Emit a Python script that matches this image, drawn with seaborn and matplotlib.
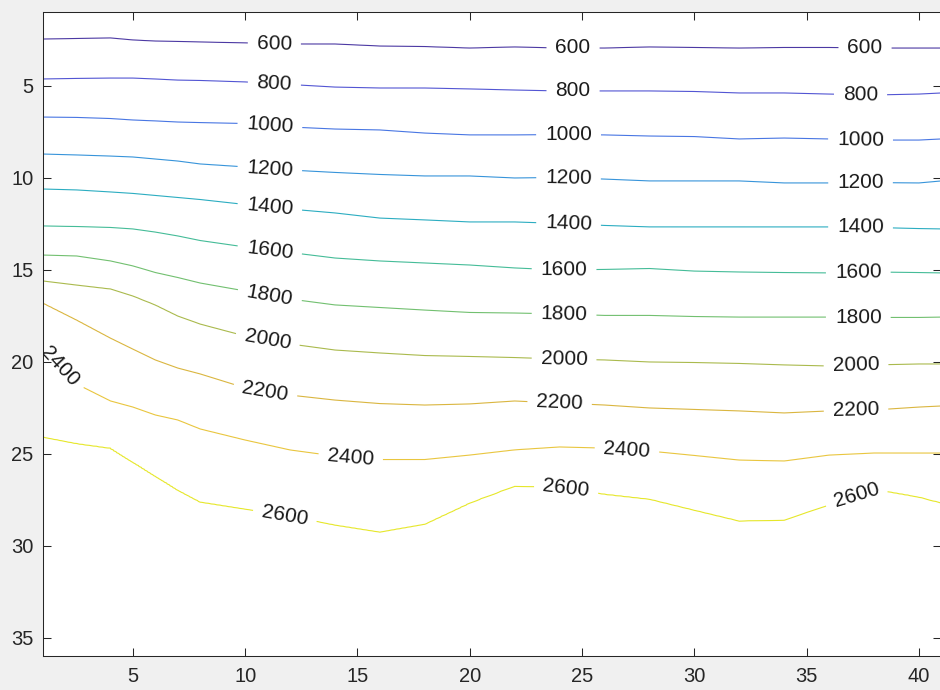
import numpy as np
import matplotlib
matplotlib.use("Agg")
import matplotlib.pyplot as plt
from matplotlib.colors import LinearSegmentedColormap, Normalize
import seaborn as sns

# ---------------- data ----------------
levels = [600, 800, 1000, 1200, 1400, 1600, 1800, 2000, 2200, 2400, 2600]
x_cols = [1, 2.5, 4, 5, 6, 7, 8, 10, 12, 14, 16, 18, 20, 22, 24, 26, 28, 30, 32, 34, 36, 38, 40, 41]

# depth (y) of each contour level at the x_cols positions
depth_600 = [2.47, 2.44, 2.41, 2.52, 2.58, 2.60, 2.63, 2.68, 2.74, 2.74, 2.85, 2.88,
             2.96, 2.90, 2.96, 2.96, 2.90, 2.93, 2.96, 2.93, 2.93, 2.96, 2.96, 2.96]
depth_800 = [4.64, 4.61, 4.59, 4.59, 4.64, 4.70, 4.72, 4.80, 4.94, 5.08, 5.13, 5.13,
             5.18, 5.24, 5.29, 5.29, 5.29, 5.32, 5.40, 5.40, 5.46, 5.51, 5.46, 5.40]
depth_1000 = [6.71, 6.73, 6.79, 6.87, 6.92, 6.98, 7.01, 7.06, 7.25, 7.36, 7.41, 7.58,
              7.68, 7.68, 7.66, 7.68, 7.74, 7.77, 7.90, 7.85, 7.90, 7.96, 7.96, 7.90]
depth_1200 = [8.72, 8.77, 8.83, 8.88, 8.99, 9.10, 9.26, 9.42, 9.59, 9.72, 9.83, 9.91,
              9.91, 10.02, 9.99, 10.08, 10.18, 10.18, 10.18, 10.29, 10.29, 10.27, 10.29, 10.18]
depth_1400 = [10.62, 10.67, 10.78, 10.86, 10.97, 11.08, 11.19, 11.46, 11.71, 11.92, 12.20, 12.30,
              12.41, 12.41, 12.49, 12.60, 12.68, 12.68, 12.68, 12.68, 12.68, 12.71, 12.77, 12.79]
depth_1600 = [12.63, 12.66, 12.71, 12.79, 12.96, 13.17, 13.42, 13.77, 14.07, 14.37, 14.53, 14.64,
              14.75, 14.91, 15.02, 14.99, 14.94, 15.08, 15.13, 15.16, 15.18, 15.13, 15.16, 15.18]
depth_1800 = [14.21, 14.26, 14.53, 14.80, 15.16, 15.43, 15.73, 16.16, 16.60, 16.92, 17.06, 17.20,
              17.33, 17.36, 17.41, 17.49, 17.49, 17.55, 17.58, 17.58, 17.58, 17.60, 17.60, 17.58]
depth_2000 = [15.62, 15.84, 16.05, 16.43, 16.92, 17.52, 17.96, 18.61, 19.04, 19.37, 19.53, 19.67,
              19.72, 19.78, 19.86, 19.91, 20.02, 20.05, 20.10, 20.18, 20.24, 20.18, 20.13, 20.13]
depth_2200 = [16.82, 17.74, 18.72, 19.32, 19.91, 20.35, 20.67, 21.43, 21.82, 22.09, 22.28, 22.36,
              22.30, 22.14, 22.25, 22.36, 22.52, 22.60, 22.68, 22.79, 22.68, 22.63, 22.47, 22.41]
depth_2400 = [19.21, 21.22, 22.14, 22.47, 22.90, 23.17, 23.66, 24.26, 24.80, 25.13, 25.32, 25.32,
              25.08, 24.80, 24.64, 24.70, 24.86, 25.10, 25.35, 25.40, 25.08, 24.97, 24.97, 24.97]
depth_2600 = [24.10, 24.45, 24.70, 25.46, 26.22, 26.98, 27.63, 28.01, 28.39, 28.88, 29.26, 28.83,
              27.68, 26.76, 26.82, 27.20, 27.47, 28.07, 28.66, 28.61, 27.79, 26.92, 27.36, 27.68]

# contour label anchor positions
label_x = [11.3, 24.6, 37.6, 11.3, 24.6, 37.4, 11.1, 24.4, 37.4, 11.1, 24.4, 37.4,
           11.1, 24.4, 37.4, 11.1, 24.2, 37.3, 11.1, 24.2, 37.3, 11.0, 24.2, 37.2,
           10.9, 24.0, 37.2, 1.7, 14.7, 27.0, 11.8, 24.3, 37.2]
label_y = [2.75, 2.96, 2.96, 4.95, 5.29, 5.50, 7.20, 7.66, 7.95, 9.50, 10.0, 10.28,
           11.6, 12.5, 12.7, 13.9, 15.0, 15.15, 16.4, 17.45, 17.58, 18.85, 19.88, 20.2,
           21.6, 22.3, 22.65, 20.3, 25.2, 24.8, 28.2, 26.85, 27.2]

xticks = [5, 10, 15, 20, 25, 30, 35, 40]
yticks = [5, 10, 15, 20, 25, 30, 35]

# ---------------- style ----------------
sns.set_theme(style="ticks")
plt.rcParams['font.family'] = ['Liberation Sans', 'DejaVu Sans']

anchors = [
    (0.000, (0.2422, 0.1504, 0.6603)),
    (0.127, (0.2810, 0.3228, 0.9579)),
    (0.254, (0.1786, 0.5289, 0.9682)),
    (0.381, (0.0689, 0.6948, 0.8394)),
    (0.508, (0.2161, 0.7843, 0.5923)),
    (0.635, (0.5044, 0.7993, 0.3480)),
    (0.762, (0.8634, 0.7406, 0.1596)),
    (0.850, (0.9970, 0.7659, 0.2199)),
    (0.900, (0.9932, 0.8251, 0.1827)),
    (1.000, (0.9769, 0.9839, 0.0805)),
]
mix = 0.18
anchors = [(p, tuple((1 - mix) * c + mix * 0.55 for c in rgb)) for p, rgb in anchors]
parula = LinearSegmentedColormap.from_list("parula_soft", anchors)

# ---------------- field from the level depths ----------------
depths = np.array([depth_600, depth_800, depth_1000, depth_1200, depth_1400, depth_1600,
                   depth_1800, depth_2000, depth_2200, depth_2400, depth_2600])
gx = np.linspace(1, 41, 321)
gy = np.linspace(1, 36, 701)
D = np.array([np.interp(gx, x_cols, d) for d in depths])
Z = np.empty((gy.size, gx.size))
for j in range(gx.size):
    Z[:, j] = np.interp(gy, np.r_[0.0, D[:, j], 40.0], np.r_[400.0, levels, 2800.0])

# ---------------- figure ----------------
fig = plt.figure(figsize=(9.4, 6.9), dpi=100, facecolor='#f0f0f0')
ax = fig.add_axes([43 / 940, 1 - 656 / 690, (941.4 - 43) / 940, (656 - 12) / 690])
ax.set_facecolor('white')

cs = ax.contour(gx, gy, Z, levels=levels, cmap=parula, norm=Normalize(600, 2600),
                linewidths=0.8)
ax.set_xlim(1, 41)
ax.set_ylim(36, 1)
ax.set_xticks(xticks)
ax.set_yticks(yticks)
ax.tick_params(direction='in', length=6, width=0.75, top=True, right=True,
               labelsize=14.5, colors='#262626')
ax.tick_params(axis='x', pad=8)
ax.tick_params(axis='y', pad=7)
for s in ax.spines.values():
    s.set_color('#262626')
    s.set_linewidth(0.75)
    s.set_visible(True)

ax.clabel(cs, levels, inline=True, inline_spacing=9, fontsize=15, colors='k', fmt='%d',
          manual=list(zip(label_x, label_y)))

fig.savefig('out.png', dpi=100, facecolor=fig.get_facecolor())
